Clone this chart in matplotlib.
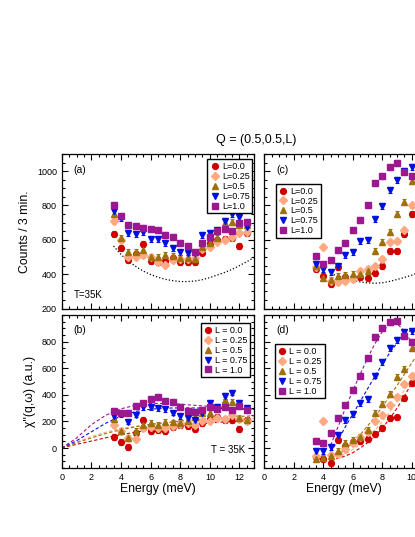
import matplotlib.pyplot as plt
from matplotlib.ticker import MultipleLocator, FixedLocator

plt.rcParams['font.family'] = ['Liberation Sans', 'DejaVu Sans']

# energies (meV)
E_left = [3.5, 4.0, 4.5, 5.0, 5.5, 6.0, 6.5, 7.0, 7.5, 8.0, 8.5, 9.0, 9.5,
          10.0, 10.5, 11.0, 11.5, 12.0, 12.5]
E_right = [3.5, 4.0, 4.5, 5.0, 5.5, 6.0, 6.5, 7.0, 7.5, 8.0, 8.5, 9.0, 9.5, 10.0]

labels_top = ["L=0.0", "L=0.25", "L=0.5", "L=0.75", "L=1.0"]
labels_bot = ["L = 0.0", "L = 0.25", "L = 0.5", "L = 0.75", "L = 1.0"]

# (a) raw counts
a_red = [636, 551, 483, 520, 578, 477, 473, 477, 492, 473, 473, 473, 526, 580, 599, 605, 609, 566, 638]
a_orange = [711, 600, 502, 502, 512, 502, 470, 452, 483, 487, 487, 493, 545, 557, 590, 599, 619, 638, 648]
a_brown = [750, 609, 531, 531, 541, 498, 502, 512, 506, 492, 492, 487, 561, 584, 609, 700, 706, 687, 687]
a_blue = [770, 726, 638, 634, 644, 605, 603, 580, 551, 527, 526, 522, 629, 638, 658, 712, 751, 732, 677]
a_purple = [805, 740, 687, 680, 667, 662, 658, 629, 615, 580, 566, 527, 580, 619, 652, 662, 652, 700, 706]
E_bg_a = [3.5, 4.0, 4.5, 5.0, 5.5, 6.0, 6.5, 7.0, 7.5, 8.0, 8.5, 9.0, 9.5,
          10.0, 10.5, 11.0, 11.5, 12.0, 12.5, 13.0]
bg_a = [564, 515, 475, 445, 418, 398, 382, 370, 362, 357, 357, 360, 368,
        380, 395, 410, 428, 450, 473, 498]

# (c) raw counts
c_red = [428, 390, 340, 440, 385, 378, 382, 380, 405, 450, 535, 535, 635, 752]
c_orange = [440, 557, 358, 355, 360, 372, 417, 428, 445, 490, 585, 592, 656, 800]
c_brown = [445, 380, 368, 388, 395, 399, 402, 420, 533, 586, 645, 751, 818, 942]
c_blue = [460, 432, 412, 448, 514, 530, 592, 600, 721, 797, 889, 948, 1000, 1025]
c_purple = [505, 460, 480, 538, 580, 655, 716, 800, 930, 972, 1023, 1048, 995, 974]
E_bg_c = [4.5, 5.0, 5.5, 6.0, 6.5, 7.0, 7.5, 8.0, 8.5, 9.0, 9.5, 10.0, 10.5, 11.0]
bg_c = [405, 388, 375, 364, 355, 349, 347, 350, 358, 369, 381, 394, 410, 428]

# (b) chi''
b_red = [85, 45, 5, 115, 212, 130, 135, 130, 160, 170, 165, 140, 190, 222, 235, 210, 212, 140, 212]
b_orange = [170, 125, 75, 70, 150, 160, 150, 150, 165, 178, 185, 170, 200, 205, 225, 220, 250, 215, 205]
b_brown = [215, 125, 75, 130, 175, 190, 175, 199, 192, 187, 200, 237, 262, 265, 312, 362, 349, 224, 212]
b_blue = [243, 255, 199, 252, 310, 305, 298, 295, 267, 240, 225, 212, 267, 337, 307, 392, 417, 337, 299]
b_purple = [280, 265, 262, 317, 335, 367, 383, 357, 349, 307, 280, 270, 285, 305, 292, 305, 287, 317, 287]
E_fit_b = [0, 1, 2, 3, 4, 5, 6, 7, 8, 9, 10, 11, 12, 13]
fb_red = [0, 28, 52, 78, 100, 120, 138, 153, 166, 178, 188, 197, 204, 210]
fb_orange = [0, 45, 86, 120, 146, 165, 179, 190, 198, 205, 211, 216, 220, 224]
fb_brown = [0, 40, 76, 110, 138, 160, 177, 191, 203, 213, 222, 230, 237, 243]
fb_blue = [0, 55, 122, 188, 240, 275, 292, 300, 302, 301, 299, 296, 293, 290]
fb_purple = [0, 75, 175, 248, 295, 322, 335, 336, 330, 321, 313, 305, 298, 292]

# (d) chi''
d_red = [-70, -80, -115, 62, 15, 45, 55, 65, 105, 150, 225, 230, 375, 490]
d_orange = [-60, 205, -55, -45, -5, 40, 85, 120, 200, 250, 325, 385, 480, 545]
d_brown = [-85, -78, -60, -20, 35, 60, 85, 135, 262, 330, 405, 537, 595, 750]
d_blue = [-20, -22, 5, 95, 210, 255, 340, 370, 545, 645, 750, 810, 870, 878]
d_purple = [55, 35, 110, 225, 320, 435, 545, 675, 835, 900, 945, 955, 845, 800]
E_fit_d = [4.5, 5.0, 5.5, 6.0, 6.5, 7.0, 7.5, 8.0, 8.5, 9.0, 9.5, 10.0, 10.5, 11.0]
fd_red = [-85, -78, -60, -35, 0, 40, 90, 150, 220, 300, 390, 490, 590, 690]
fd_orange = [-80, -70, -45, -10, 30, 80, 135, 200, 270, 350, 435, 525, 620, 715]
fd_brown = [-75, -50, -10, 40, 100, 165, 235, 310, 390, 470, 555, 640, 725, 810]
fd_blue = [-30, 60, 160, 255, 350, 445, 540, 630, 715, 790, 850, 890, 905, 905]
fd_purple = [20, 160, 300, 430, 555, 675, 785, 875, 930, 935, 880, 790, 700, 620]

err_counts = 17
err_chi = 22

colors = ['#d00000', '#ffa982', '#a0700c', '#0010e0', '#9c1890']
markers = ['o', 'D', '^', 'v', 's']
msizes = [4.2, 4.0, 4.6, 4.6, 4.2]

fig = plt.figure(figsize=(4.15, 5.37), dpi=100)
W, H = 415.0, 537.0
ax_a = fig.add_axes([61.7 / W, (H - 308.5) / H, 192.6 / W, 154.5 / H])
ax_c = fig.add_axes([264.3 / W, (H - 308.5) / H, 159.3 / W, 154.5 / H])
ax_b = fig.add_axes([61.7 / W, (H - 468) / H, 192.6 / W, 153 / H])
ax_d = fig.add_axes([264.3 / W, (H - 468) / H, 159.3 / W, 153 / H])


def pts(ax, E, series, err):
    hs = []
    for y, c, m, ms in zip(series, colors, markers, msizes):
        h = ax.errorbar(E, y, yerr=err, fmt=m, color=c, ms=ms, mec=c,
                        elinewidth=0.8, capsize=1.6, capthick=0.8, zorder=3)
        hs.append(h[0])   # marker only, for the legend
    return hs


def style(ax, right, yticks=None):
    ax.set_xlim(0, 10.8 if right else 13)
    ax.xaxis.set_major_locator(MultipleLocator(2))
    ax.xaxis.set_minor_locator(MultipleLocator(0.5))
    if yticks is None:
        ax.yaxis.set_major_locator(MultipleLocator(200))
    else:
        ax.yaxis.set_major_locator(FixedLocator(yticks))
    ax.yaxis.set_minor_locator(MultipleLocator(50))
    ax.tick_params(which='both', direction='in', top=True, right=True,
                   labelsize=6.5, width=0.8)
    ax.tick_params(which='major', length=4)
    ax.tick_params(which='minor', length=2)
    for s in ax.spines.values():
        s.set_linewidth(0.9)
    if right:
        ax.tick_params(labelleft=False)


def leg(ax, hs, labels, loc, anchor):
    ax.legend(hs, labels, loc=loc, bbox_to_anchor=anchor,
              fontsize=6.5, frameon=True, fancybox=False, edgecolor='black',
              framealpha=1, borderpad=0.3, labelspacing=0.1, handletextpad=0.3,
              handlelength=1.0, borderaxespad=0)


# panel (a)
h = pts(ax_a, E_left, [a_red, a_orange, a_brown, a_blue, a_purple], err_counts)
ax_a.plot(E_bg_a, bg_a, ':', color='black', lw=0.9)
ax_a.set_ylim(200, 1100)
style(ax_a, False)
ax_a.tick_params(labelbottom=False)
ax_a.set_ylabel('Counts / 3 min.', fontsize=8.8, labelpad=4)
ax_a.text(0.06, 0.88, '(a)', transform=ax_a.transAxes, fontsize=7.5)
ax_a.text(0.065, 0.09, 'T=35K', transform=ax_a.transAxes, fontsize=7, va='center')
leg(ax_a, h, labels_top, 'upper right', (0.99, 0.965))

# panel (c)
h = pts(ax_c, E_right, [c_red, c_orange, c_brown, c_blue, c_purple], err_counts)
ax_c.plot(E_bg_c, bg_c, ':', color='black', lw=0.9)
ax_c.set_ylim(200, 1100)
style(ax_c, True)
ax_c.tick_params(labelbottom=False)
ax_c.text(0.075, 0.88, '(c)', transform=ax_c.transAxes, fontsize=7.5)
leg(ax_c, h, labels_top, 'upper left', (0.073, 0.806))

# panel (b)
h = pts(ax_b, E_left, [b_red, b_orange, b_brown, b_blue, b_purple], err_chi)
for f, c in zip([fb_red, fb_orange, fb_brown, fb_blue, fb_purple], colors):
    ax_b.plot(E_fit_b, f, '--', color=c, lw=0.8, dashes=(3, 2))
ax_b.set_ylim(-150, 1000)
style(ax_b, False, [0, 200, 400, 600, 800])
ax_b.set_ylabel("\u03c7''(q,\u03c9) (a.u.)", fontsize=8.8, labelpad=4)
ax_b.set_xlabel('Energy (meV)', fontsize=8.8, labelpad=1)
ax_b.text(0.06, 0.88, '(b)', transform=ax_b.transAxes, fontsize=7.5)
ax_b.text(0.955, 0.12, 'T = 35K', transform=ax_b.transAxes, fontsize=7,
          ha='right', va='center')
leg(ax_b, h, labels_bot, 'upper right', (0.978, 0.946))

# panel (d)
h = pts(ax_d, E_right, [d_red, d_orange, d_brown, d_blue, d_purple], err_chi)
for f, c in zip([fd_red, fd_orange, fd_brown, fd_blue, fd_purple], colors):
    ax_d.plot(E_fit_d, f, '--', color=c, lw=0.8, dashes=(3, 2))
ax_d.set_ylim(-150, 1000)
style(ax_d, True, [0, 200, 400, 600, 800])
ax_d.set_xlabel('Energy (meV)', fontsize=8.8, labelpad=1)
ax_d.text(0.075, 0.88, '(d)', transform=ax_d.transAxes, fontsize=7.5)
leg(ax_d, h, labels_bot, 'upper left', (0.067, 0.808))

fig.text(256 / W, (H - 140) / H, 'Q = (0.5,0.5,L)', fontsize=9,
         ha='center', va='center')

fig.savefig('out.png', dpi=100)
